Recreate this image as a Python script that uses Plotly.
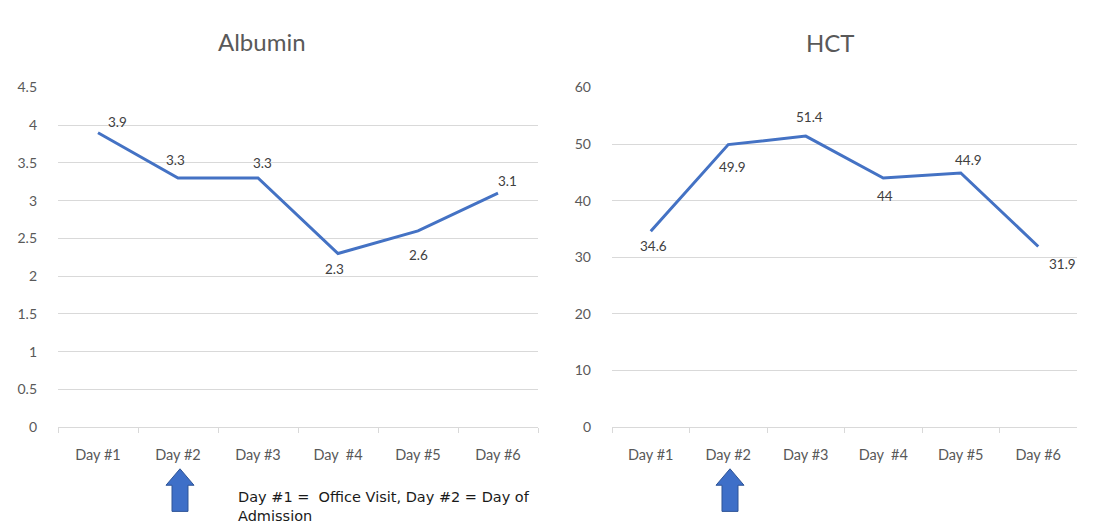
import plotly.graph_objects as go

W, H = 1106, 531

days = ["Day #1", "Day #2", "Day #3", "Day  #4", "Day #5", "Day #6"]
albumin = [3.9, 3.3, 3.3, 2.3, 2.6, 3.1]
albumin_text = ["3.9", "3.3", "3.3", "2.3", "2.6", "3.1"]
hct = [34.6, 49.9, 51.4, 44, 44.9, 31.9]
hct_text = ["34.6", "49.9", "51.4", "44", "44.9", "31.9"]

# label offsets in pixels (style only)
albumin_dx = [19, -3, 4, -4, 0, 9]
albumin_dy = [11, 18, 15, -15, -24, 12]
hct_dx = [3, 4, 4, 2, 8, 24]
hct_dy = [-15, -22, 19, -18, 13, -17]

LINE = "#4472C4"
GRID = "#D9D9D9"
TICK = "#595959"
FONT = "Lato, Open Sans, sans-serif"

def px(x):
    return x / W

def py(y):
    return 1 - y / H

fig = go.Figure()
fig.add_trace(go.Scatter(x=days, y=albumin, mode="lines", line=dict(color=LINE, width=3),
                         xaxis="x", yaxis="y", showlegend=False))
fig.add_trace(go.Scatter(x=days, y=hct, mode="lines", line=dict(color=LINE, width=3),
                         xaxis="x2", yaxis="y2", showlegend=False))

for xs, ys, ts, dxs, dys, xr, yr in [
    (days, albumin, albumin_text, albumin_dx, albumin_dy, "x", "y"),
    (days, hct, hct_text, hct_dx, hct_dy, "x2", "y2"),
]:
    for xv, yv, tv, dx, dy in zip(xs, ys, ts, dxs, dys):
        fig.add_annotation(x=xv, y=yv, xref=xr, yref=yr, text=tv, showarrow=False,
                           xshift=dx, yshift=dy, xanchor="center", yanchor="middle",
                           font=dict(size=13.5, color="#404040", family=FONT))

xcommon = dict(type="category", range=[-0.5, 5.5], showgrid=False, showline=True,
               linecolor=GRID, linewidth=1, ticks="outside", tickson="boundaries",
               ticklen=5, tickcolor=GRID, tickfont=dict(size=14.5, color=TICK),
               ticklabelstandoff=14, zeroline=False, fixedrange=True)
ycommon = dict(showgrid=True, gridcolor=GRID, gridwidth=1, showline=False,
               zeroline=False, ticks="", tickfont=dict(size=14, color=TICK),
               ticklabelstandoff=20, fixedrange=True)

yb, yt = py(432), py(81)
fig.update_layout(
    width=W, height=H,
    margin=dict(l=0, r=0, t=0, b=0),
    paper_bgcolor="white", plot_bgcolor="white",
    font=dict(family=FONT),
    xaxis=dict(domain=[px(58), px(538)], anchor="y", **xcommon),
    yaxis=dict(domain=[yb, yt], anchor="x", range=[0, 4.5], dtick=0.5, **ycommon),
    xaxis2=dict(domain=[px(612), px(1077)], anchor="y2", **xcommon),
    yaxis2=dict(domain=[yb, yt], anchor="x2", range=[0, 60], dtick=10, **ycommon),
)

fig.add_annotation(text="Albumin", x=px(262), y=py(34), xref="paper", yref="paper",
                   showarrow=False, font=dict(size=24, color=TICK), xanchor="center", yanchor="middle")
fig.add_annotation(text="HCT", x=px(830), y=py(35), xref="paper", yref="paper",
                   showarrow=False, font=dict(size=24, color=TICK), xanchor="center", yanchor="middle")
fig.add_annotation(text="Day #1 =  Office Visit, Day #2 = Day of<br>Admission",
                   x=px(236), y=py(494), xref="paper", yref="paper", showarrow=False,
                   align="left", xanchor="left", yanchor="top",
                   font=dict(size=14.5, color="#1a1a1a", family="DejaVu Sans"))

def arrow(cx):
    top, base, bot = 475, 492, 519
    pts = [(cx, top), (cx + 14, base), (cx + 8, base), (cx + 8, bot),
           (cx - 8, bot), (cx - 8, base), (cx - 14, base)]
    path = "M " + " L ".join(f"{px(x):.5f},{py(y):.5f}" for x, y in pts) + " Z"
    fig.add_shape(type="path", path=path, xref="paper", yref="paper",
                  fillcolor="#3E6FC8", line=dict(color="#2F5597", width=1))

arrow(180)
arrow(730)

fig.write_html("out.html")
